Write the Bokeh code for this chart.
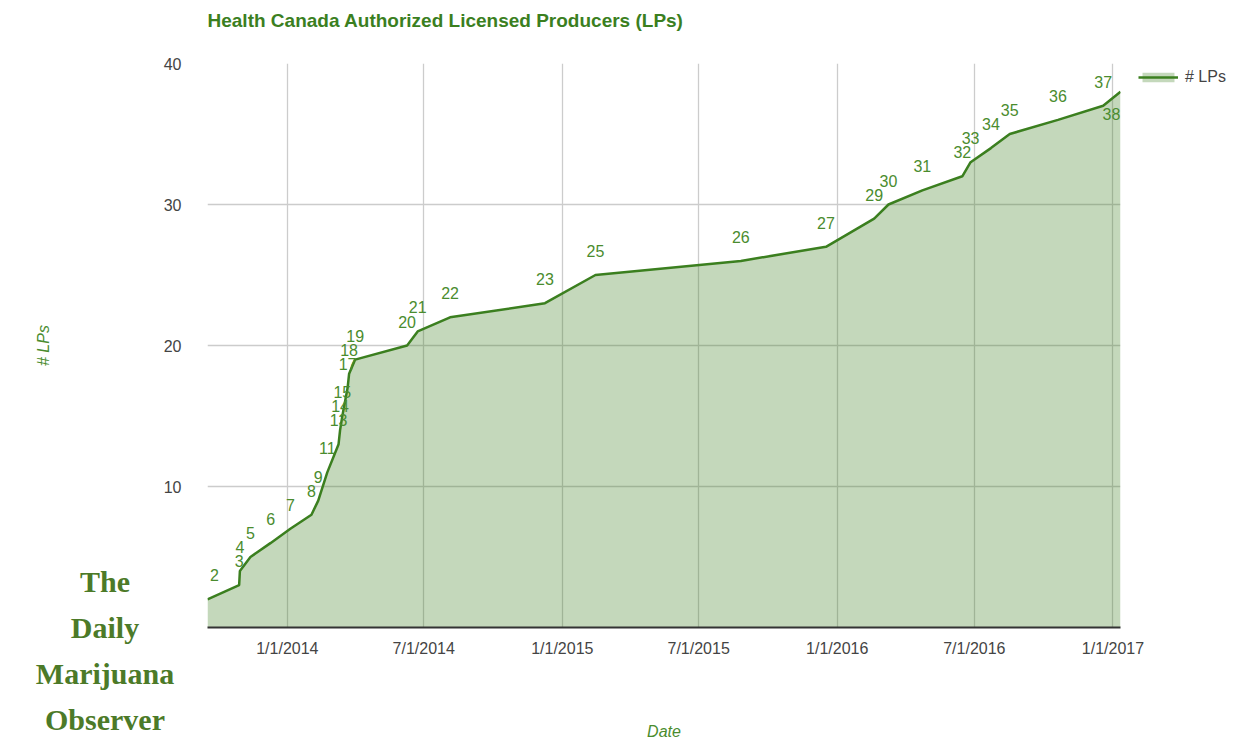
import pandas as pd
from bokeh.plotting import figure
from bokeh.models import (Range1d, FixedTicker, LabelSet, Legend, LegendItem,
                          ColumnDataSource, Title, Div)
from bokeh.layouts import column
from bokeh.core.properties import value
from bokeh.embed import file_html
from bokeh.resources import INLINE

# ---------------- data ----------------
dates = ["2013-09-17", "2013-10-29", "2013-10-30", "2013-11-13", "2013-12-10",
         "2014-01-05", "2014-02-02", "2014-02-11", "2014-02-23", "2014-03-10",
         "2014-03-12", "2014-03-15", "2014-03-22", "2014-03-24", "2014-04-01",
         "2014-06-09", "2014-06-23", "2014-08-05", "2014-12-09", "2015-02-14",
         "2015-08-26", "2015-12-17", "2016-02-19", "2016-03-09", "2016-04-23",
         "2016-06-15", "2016-06-26", "2016-07-23", "2016-08-17", "2016-10-20",
         "2016-12-19", "2017-01-11"]
lps = [2, 3, 4, 5, 6, 7, 8, 9, 11, 13, 14, 15, 17, 18, 19, 20, 21, 22, 23, 25,
       26, 27, 29, 30, 31, 32, 33, 34, 35, 36, 37, 38]
x_tick_dates = ["2014-01-01", "2014-07-01", "2015-01-01", "2015-07-01",
                "2016-01-01", "2016-07-01", "2017-01-01"]
x_tick_labels = ["1/1/2014", "7/1/2014", "1/1/2015", "7/1/2015",
                 "1/1/2016", "7/1/2016", "1/1/2017"]
y_ticks = [10, 20, 30, 40]
series_name = "# LPs"
title_text = "Health Canada Authorized Licensed Producers (LPs)"
x_title = "Date"
watermark = ["The", "Daily", "Marijuana", "Observer"]

GREEN = "#3b7f1f"
LABEL_GREEN = "#4a8c2e"
FONT = "Liberation Sans"

x = pd.to_datetime(dates)
y_off = [24] * len(lps)
y_off[-1] = -22
x_off = [0] * len(lps)
x_off[0] = 7
x_off[-1] = -9
src = ColumnDataSource(dict(x=x, y=lps, lab=[str(v) for v in lps], yoff=y_off, xoff=x_off))

tick_ms = [int(v) for v in (pd.to_datetime(x_tick_dates).astype("int64") // 10**6)]

p = figure(width=1242, height=742, frame_width=913, frame_height=564,
           x_axis_type="datetime", output_backend="svg",
           toolbar_location=None, x_range=Range1d(x[0], x[-1]), y_range=Range1d(0, 40))
p.min_border_left = 207
p.min_border_right = 122
p.min_border_top = 63
p.min_border_bottom = 115
p.outline_line_color = None
p.background_fill_color = "white"
p.border_fill_color = "white"

# title (with an empty spacer title between it and the frame)
p.title.visible = False
p.add_layout(Title(text=" ", text_font_size="8px", standoff=20), "above")
p.add_layout(Title(text=title_text, align="left", text_font=FONT, text_font_size="19px",
                   text_font_style="bold", text_color=GREEN, standoff=4), "above")

# grids
p.xgrid.ticker = FixedTicker(ticks=tick_ms)
p.ygrid.ticker = FixedTicker(ticks=y_ticks)
p.xgrid.grid_line_color = "#cccccc"
p.ygrid.grid_line_color = "#cccccc"
p.xgrid.grid_line_width = 1.3
p.ygrid.grid_line_width = 1.3

# axes
p.xaxis.ticker = FixedTicker(ticks=tick_ms)
p.xaxis.major_label_overrides = dict(zip(tick_ms, x_tick_labels))
p.xaxis.axis_line_color = "#333333"
p.xaxis.axis_line_width = 2
p.xaxis.major_tick_line_color = None
p.xaxis.minor_tick_line_color = None
p.xaxis.major_label_standoff = 6
p.xaxis.axis_label = x_title
p.xaxis.axis_label_standoff = 63
p.yaxis.ticker = FixedTicker(ticks=y_ticks)
p.yaxis.axis_line_color = None
p.yaxis.major_tick_line_color = None
p.yaxis.minor_tick_line_color = None
p.yaxis.major_label_standoff = 20
p.yaxis.axis_label = series_name
p.yaxis.axis_label_standoff = 109
for ax in (p.xaxis, p.yaxis):
    ax.major_label_text_font = FONT
    ax.major_label_text_font_size = "16px"
    ax.major_label_text_color = "#444444"
    ax.axis_label_text_font = FONT
    ax.axis_label_text_font_size = "16px"
    ax.axis_label_text_font_style = "italic"
    ax.axis_label_text_color = LABEL_GREEN

# series
area = p.varea(x="x", y1=0, y2="y", source=src, fill_color=GREEN, fill_alpha=0.3)
line = p.line(x="x", y="y", source=src, line_color=GREEN, line_width=2.5)

labels = LabelSet(x="x", y="y", text="lab", source=src, y_offset="yoff", x_offset="xoff",
                  text_align="center", text_baseline="middle",
                  text_font=value(FONT), text_font_size=value("16px"),
                  text_color=LABEL_GREEN)
p.add_layout(labels)

legend = Legend(items=[LegendItem(label=series_name, renderers=[area, line])],
                location=(18, 541), glyph_width=40, glyph_height=12,
                label_standoff=7, padding=0, margin=0, border_line_color=None,
                background_fill_alpha=0, label_text_font=FONT,
                label_text_font_size="16px", label_text_color="#444444")
p.add_layout(legend, "right")

# watermark, laid over the lower-left corner of the page
wm_html = ('<div style="font-family:\'Liberation Serif\',serif;font-weight:bold;'
           'font-size:30px;line-height:46px;color:#4c7a28;text-align:center;width:200px;">'
           + "<br>".join(watermark) + "</div>")
d = Div(text=wm_html, width=200, height=184,
        styles={"position": "absolute", "left": "0px", "top": "554px", "z-index": "10"})

layout = column(p, d)
open("out.html", "w").write(file_html(layout, INLINE))
